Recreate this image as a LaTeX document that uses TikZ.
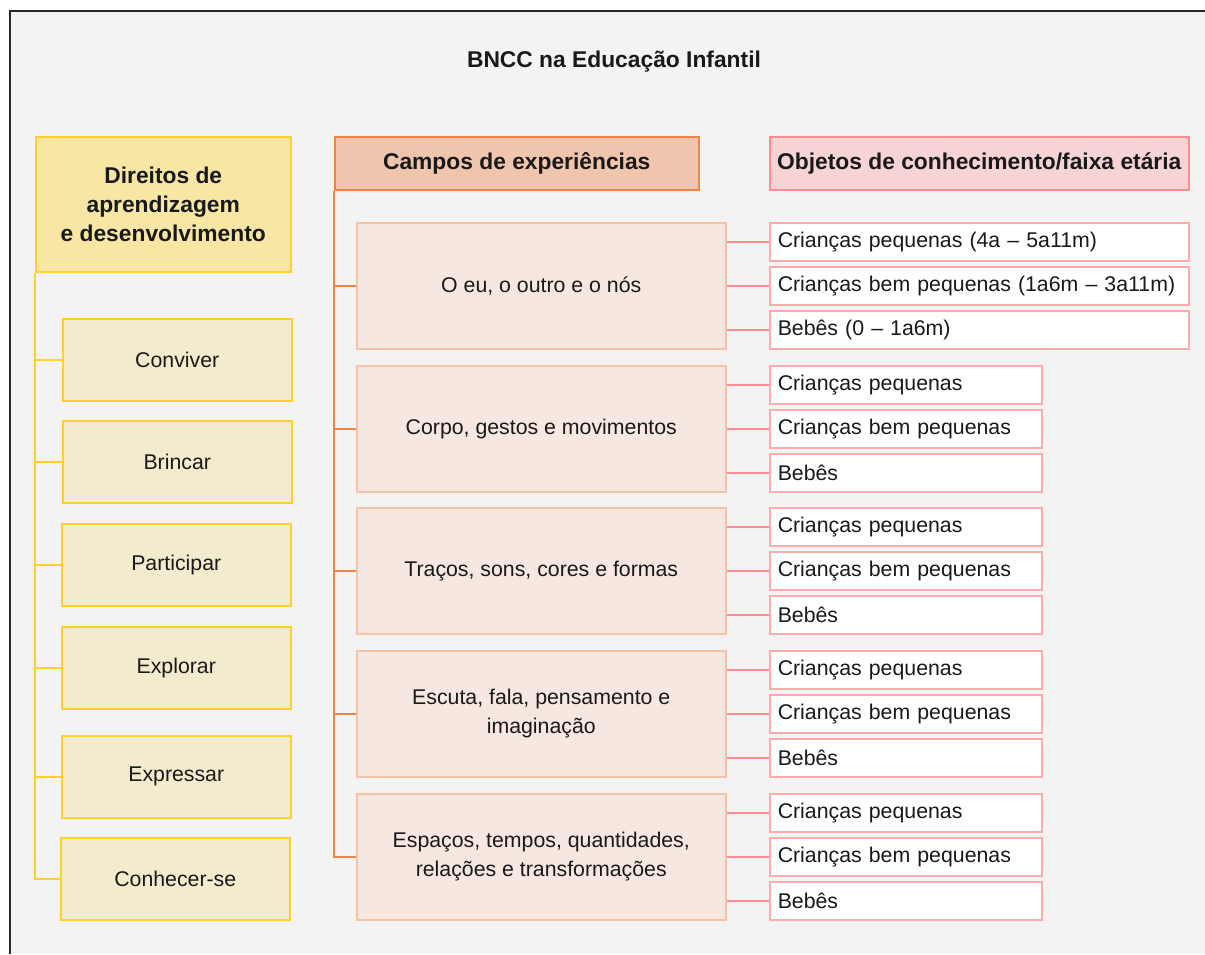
\documentclass[tikz,border=0pt]{standalone}
\usepackage{fontspec}
\setmainfont{Liberation Sans}
\usepackage{xcolor}
\usetikzlibrary{positioning}
\definecolor{bgray}{HTML}{F3F3F3}
\definecolor{dirline}{HTML}{FFD02A}
\definecolor{dirhead}{HTML}{F7E6A4}
\definecolor{dirfill}{HTML}{F3EBCD}
\definecolor{campline}{HTML}{EE8446}
\definecolor{camphead}{HTML}{F0C5AD}
\definecolor{campfill}{HTML}{F6E8E0}
\definecolor{campedge}{HTML}{F5C2A5}
\definecolor{objline}{HTML}{FF8C90}
\definecolor{objhead}{HTML}{F6D3D5}
\definecolor{objedge}{HTML}{FFAAAD}

\begin{document}
\begin{tikzpicture}[x=1pt,y=-1pt,
        box/.style = {anchor=north west, inner sep=0pt, line width=1.5pt, align=center, text=black!90, font=\fontsize{21.3}{29}\selectfont},
        head/.style = {box, font=\bfseries\fontsize{22.8}{29}\selectfont},
        dirhd/.style = {head, draw=dirline, fill=dirhead, minimum width=255pt, minimum height=135pt},
        dir/.style = {box, draw=dirline, fill=dirfill, minimum width=229pt, minimum height=82pt},
        camphd/.style = {head, draw=campline, fill=camphead, minimum width=364pt, minimum height=53pt},
        campo/.style = {box, draw=campedge, fill=campfill, minimum width=369pt, minimum height=126pt},
        objhd/.style = {head, draw=objline, fill=objhead, minimum width=419pt, minimum height=53pt},
        obj/.style = {box, draw=objedge, fill=white, minimum width=272pt, minimum height=38pt, text width=256pt, align=left},
        objw/.style = {obj, minimum width=419pt, text width=403pt},
        yline/.style = {draw=dirline, line width=1.5pt},
        oline/.style = {draw=campline, line width=1.8pt},
        pline/.style = {draw=objline, line width=1.5pt}]
        \useasboundingbox (0,0) rectangle (1205,954);
        \fill[white] (0,0) rectangle (1205,954);
        \fill[bgray] (10,11) rectangle (1205,954);
        \draw[line width=1.2pt, black!85] (10,954) -- (10,11) -- (1205,11);

        \node[font=\bfseries\fontsize{22.8}{26}\selectfont, text=black!90] (title) at (614,62) {BNCC na Educação Infantil};

        \node[dirhd] (direitos) at (35,136) {Direitos de\\aprendizagem\\e desenvolvimento};
        \node[dir] (conviver) at (62,318) {Conviver};
        \node[dir] (brincar) at (62,420) {Brincar};
        \node[dir] (participar) at (61,523) {Participar};
        \node[dir] (explorar) at (61,626) {Explorar};
        \node[dir] (expressar) at (61,735) {Expressar};
        \node[dir] (conhecer) at (60,837) {Conhecer-se};

        \node[camphd] (campos) at (334,136) {Campos de experiências};
        \node[campo] (eu) at (356,222) {O eu, o outro e o nós};
        \node[campo] (corpo) at (356,365) {Corpo, gestos e movimentos};
        \node[campo] (tracos) at (356,507) {Traços, sons, cores e formas};
        \node[campo] (escuta) at (356,650) {Escuta, fala, pensamento e\\imaginação};
        \node[campo] (espacos) at (356,793) {Espaços, tempos, quantidades,\\relações e transformações};

        \node[objhd] (objetos) at (769,136) {Objetos de conhecimento/faixa etária};
        \node[objw] (eu1) at (769,222) {Crianças pequenas (4a – 5a11m)};
        \node[objw] (eu2) at (769,266) {Crianças bem pequenas (1a6m – 3a11m)};
        \node[objw] (eu3) at (769,310) {Bebês (0 – 1a6m)};
        \node[obj] (corpo1) at (769,365) {Crianças pequenas};
        \node[obj] (corpo2) at (769,409) {Crianças bem pequenas};
        \node[obj] (corpo3) at (769,453) {Bebês};
        \node[obj] (tracos1) at (769,507) {Crianças pequenas};
        \node[obj] (tracos2) at (769,551) {Crianças bem pequenas};
        \node[obj] (tracos3) at (769,595) {Bebês};
        \node[obj] (escuta1) at (769,650) {Crianças pequenas};
        \node[obj] (escuta2) at (769,694) {Crianças bem pequenas};
        \node[obj] (escuta3) at (769,738) {Bebês};
        \node[obj] (espacos1) at (769,793) {Crianças pequenas};
        \node[obj] (espacos2) at (769,837) {Crianças bem pequenas};
        \node[obj] (espacos3) at (769,881) {Bebês};

        \draw[yline] (direitos.south west) |- (conviver.west);
        \draw[yline] (direitos.south west) |- (brincar.west);
        \draw[yline] (direitos.south west) |- (participar.west);
        \draw[yline] (direitos.south west) |- (explorar.west);
        \draw[yline] (direitos.south west) |- (expressar.west);
        \draw[yline] (direitos.south west) |- (conhecer.west);

        \draw[oline] (campos.south west) |- (eu.west);
        \draw[oline] (campos.south west) |- (corpo.west);
        \draw[oline] (campos.south west) |- (tracos.west);
        \draw[oline] (campos.south west) |- (escuta.west);
        \draw[oline] (campos.south west) |- (espacos.west);

        \draw[pline] (eu.east |- eu1) to (eu1.west);
        \draw[pline] (eu.east |- eu2) to (eu2.west);
        \draw[pline] (eu.east |- eu3) to (eu3.west);
        \draw[pline] (corpo.east |- corpo1) to (corpo1.west);
        \draw[pline] (corpo.east |- corpo2) to (corpo2.west);
        \draw[pline] (corpo.east |- corpo3) to (corpo3.west);
        \draw[pline] (tracos.east |- tracos1) to (tracos1.west);
        \draw[pline] (tracos.east |- tracos2) to (tracos2.west);
        \draw[pline] (tracos.east |- tracos3) to (tracos3.west);
        \draw[pline] (escuta.east |- escuta1) to (escuta1.west);
        \draw[pline] (escuta.east |- escuta2) to (escuta2.west);
        \draw[pline] (escuta.east |- escuta3) to (escuta3.west);
        \draw[pline] (espacos.east |- espacos1) to (espacos1.west);
        \draw[pline] (espacos.east |- espacos2) to (espacos2.west);
        \draw[pline] (espacos.east |- espacos3) to (espacos3.west);
\end{tikzpicture}
\end{document}
